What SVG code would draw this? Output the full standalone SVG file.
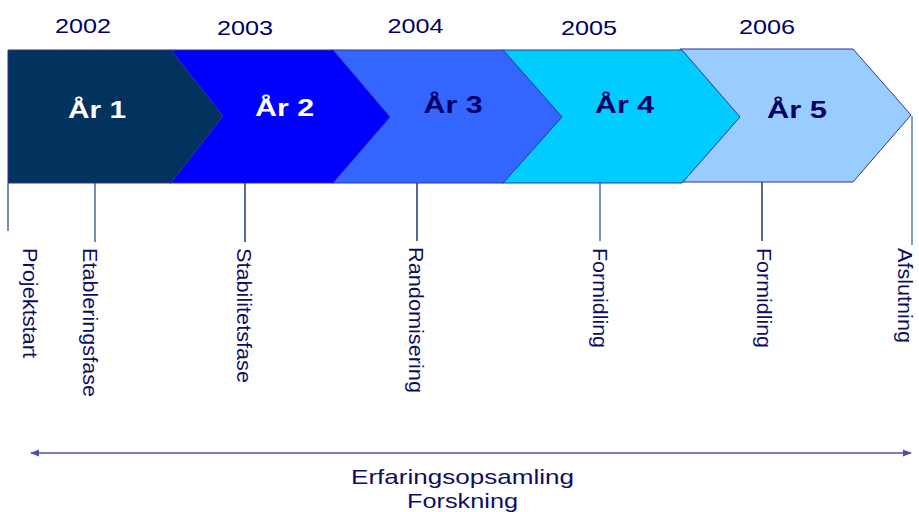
<svg xmlns="http://www.w3.org/2000/svg" width="919" height="512" viewBox="0 0 919 512">
<defs>
<style>
.chev{stroke:#333399;stroke-width:1;}
.yr{font-family:"Liberation Sans",Arial,sans-serif;font-size:21px;fill:#000066;text-anchor:middle;}
.ar{font-family:"Liberation Sans",Arial,sans-serif;font-size:24px;font-weight:bold;text-anchor:middle;}
.vt{font-family:"Liberation Sans",Arial,sans-serif;font-size:21px;fill:#0d0d66;}
.bt{font-family:"Liberation Sans",Arial,sans-serif;font-size:21px;fill:#0d0d66;text-anchor:middle;}
.tick{stroke-width:1.5;fill:none;}
</style>
<marker id="ah" viewBox="0 0 10 10" refX="9" refY="5" markerWidth="6" markerHeight="6" orient="auto-start-reverse">
<path d="M0,1 L10,5 L0,9 z" fill="#5050a8"/>
</marker>
</defs>
<rect width="919" height="512" fill="#ffffff"/>

<g id="connectors">
<line class="tick" x1="8" y1="183" x2="8" y2="231" stroke="#4a6a92"/>
<line class="tick" x1="95" y1="183" x2="95" y2="242" stroke="#4a6a92"/>
<line class="tick" x1="245" y1="183" x2="245" y2="242" stroke="#1f3a6a"/>
<line class="tick" x1="417" y1="183" x2="417" y2="241" stroke="#1f3a6a"/>
<line class="tick" x1="600" y1="183" x2="600" y2="241" stroke="#4b7199"/>
<line class="tick" x1="762" y1="182" x2="762" y2="241" stroke="#1f3a6a"/>
<line class="tick" x1="912" y1="116" x2="912" y2="245" stroke="#5b7fa6"/>
<line x1="31" y1="453" x2="911" y2="453" stroke="#5050a8" stroke-width="1.5" marker-start="url(#ah)" marker-end="url(#ah)"/>
</g>

<g id="year5">
<polygon class="chev" fill="#99ccff" points="680,49 853,49 911,115 853,182 680,182"/>
<text class="ar" x="797" y="118" fill="#000066" textLength="60" lengthAdjust="spacingAndGlyphs">År 5</text>
<text class="yr" x="767" y="34" textLength="56" lengthAdjust="spacingAndGlyphs">2006</text>
</g>
<g id="year4">
<polygon class="chev" fill="#00ccff" points="502,50 682,50 740,117 682,183 502,183"/>
<text class="ar" x="624.5" y="113" fill="#000066" textLength="59" lengthAdjust="spacingAndGlyphs">År 4</text>
<text class="yr" x="589" y="35" textLength="56" lengthAdjust="spacingAndGlyphs">2005</text>
</g>
<g id="year3">
<polygon class="chev" fill="#3366ff" points="332,50 503,50 562,117 503,183 332,183"/>
<text class="ar" x="453" y="113" fill="#000066" textLength="59" lengthAdjust="spacingAndGlyphs">År 3</text>
<text class="yr" x="415.5" y="33" textLength="56" lengthAdjust="spacingAndGlyphs">2004</text>
</g>
<g id="year2">
<polygon class="chev" fill="#0000ff" points="170,50 333,50 390,117 333,183 170,183"/>
<text class="ar" x="284.5" y="116" fill="#ffffff" textLength="59" lengthAdjust="spacingAndGlyphs">År 2</text>
<text class="yr" x="245" y="35" textLength="56" lengthAdjust="spacingAndGlyphs">2003</text>
</g>
<g id="year1">
<polygon class="chev" fill="#02335e" points="8,50 171,50 223,116 171,183 8,183"/>
<text class="ar" x="97" y="118" fill="#ffffff" textLength="58" lengthAdjust="spacingAndGlyphs">År 1</text>
<text class="yr" x="83" y="33" textLength="56" lengthAdjust="spacingAndGlyphs">2002</text>
</g>

<g id="m-projektstart"><text class="vt" transform="translate(23,248) rotate(90)" textLength="110" lengthAdjust="spacingAndGlyphs">Projektstart</text></g>
<g id="m-etablering"><text class="vt" transform="translate(83,248) rotate(90)" textLength="149" lengthAdjust="spacingAndGlyphs">Etableringsfase</text></g>
<g id="m-stabilitet"><text class="vt" transform="translate(237,248) rotate(90)" textLength="135" lengthAdjust="spacingAndGlyphs">Stabilitetsfase</text></g>
<g id="m-randomisering"><text class="vt" transform="translate(409,247) rotate(90)" textLength="146" lengthAdjust="spacingAndGlyphs">Randomisering</text></g>
<g id="m-formidling1"><text class="vt" transform="translate(593,248) rotate(90)" textLength="100" lengthAdjust="spacingAndGlyphs">Formidling</text></g>
<g id="m-formidling2"><text class="vt" transform="translate(757,248) rotate(90)" textLength="100" lengthAdjust="spacingAndGlyphs">Formidling</text></g>
<g id="m-afslutning"><text class="vt" transform="translate(898,248) rotate(90)" textLength="95" lengthAdjust="spacingAndGlyphs">Afslutning</text></g>

<g id="span-label">
<text class="bt" x="462.5" y="484" textLength="223" lengthAdjust="spacingAndGlyphs">Erfaringsopsamling</text>
<text class="bt" x="462.5" y="508" textLength="111" lengthAdjust="spacingAndGlyphs">Forskning</text>
</g>
</svg>
